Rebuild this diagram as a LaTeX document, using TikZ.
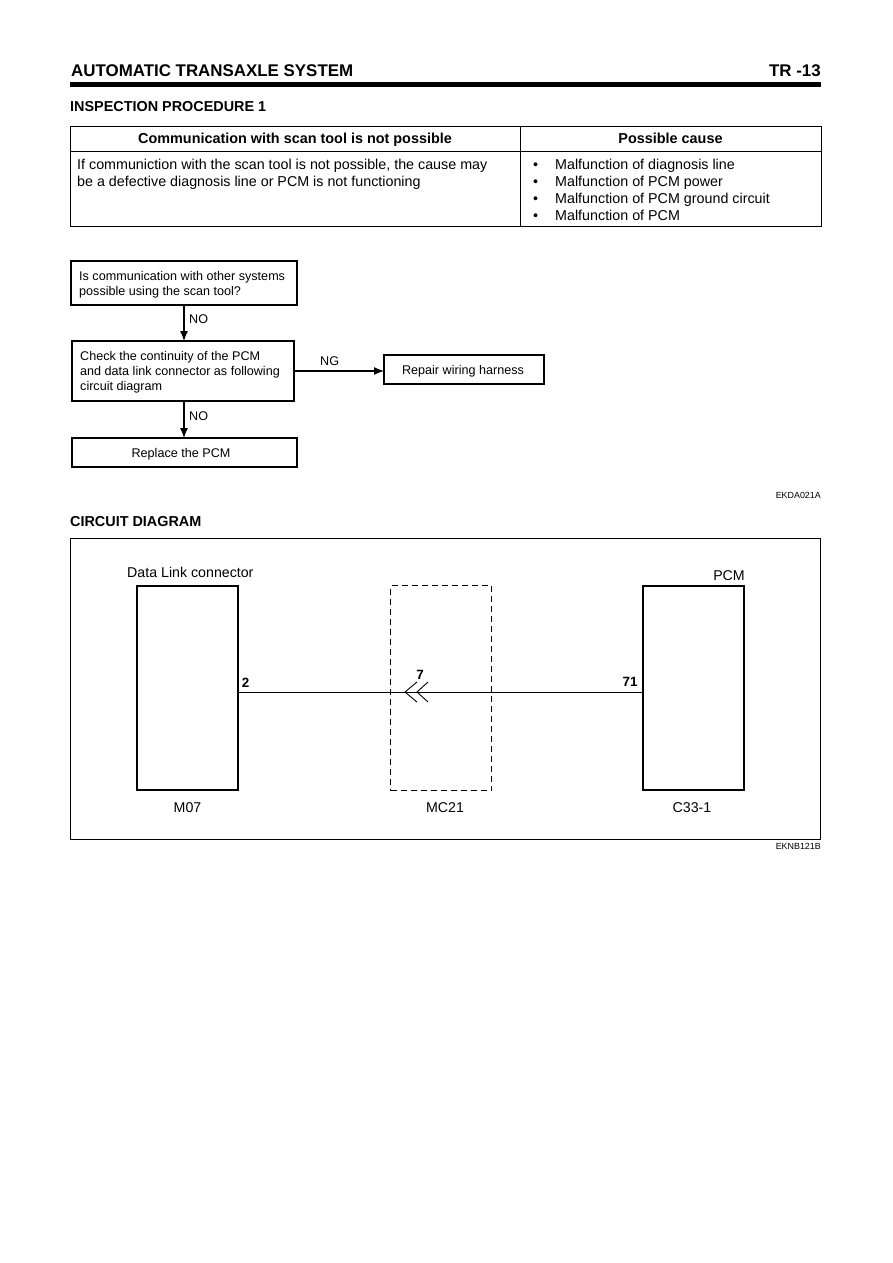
\documentclass[tikz,border=0pt]{standalone}
\usepackage{xcolor}
\usepackage{fontspec}
\setmainfont{Liberation Sans}
\usetikzlibrary{arrows.meta}
\usetikzlibrary{calc}
\usetikzlibrary{positioning}
\tikzstyle{cell} = [draw, line width = 1pt, rectangle, anchor = north west, inner sep = 0pt, outer sep = 0pt]
\tikzstyle{flowbox} = [draw, line width = 1.2pt, rectangle, anchor = north west, inner sep = 0pt, outer sep = 0pt]
\tikzstyle{unit} = [draw, line width = 1.5pt, rectangle, anchor = north west, inner sep = 0pt, outer sep = 0pt, minimum width = 101pt, minimum height = 204pt]
\tikzstyle{flowtext} = [inner sep = 0pt, align = left, anchor = north west, font = \fontsize{12.6}{15}\selectfont]
\tikzstyle{tabletext} = [inner sep = 0pt, align = left, anchor = north west, font = \fontsize{14.3}{17}\selectfont]
\tikzstyle{headtext} = [inner sep = 0pt, text height = 10pt, text depth = 0pt, font = \fontsize{14.4}{17}\selectfont\bfseries]
\tikzstyle{partname} = [inner sep = 0pt, font = \fontsize{14.2}{17}\selectfont]
\tikzstyle{pin} = [inner sep = 0pt, font = \fontsize{13.4}{15}\selectfont\bfseries]
\tikzstyle{flowarrow} = [line width = 1.2pt, -{Latex[length = 10pt, width = 8pt]}]
\tikzstyle{codetext} = [inner sep = 0pt, anchor = base east, font = \fontsize{8.9}{10}\selectfont]

\begin{document}
\begin{tikzpicture}[x = 1pt, y = -1pt]
\useasboundingbox (0,0) rectangle (893,1263);

% page heading
\node (title) [inner sep = 0pt, anchor = base west, font = \fontsize{16.9}{20}\selectfont\bfseries] at (71,77) {AUTOMATIC TRANSAXLE SYSTEM};
\node (page) [inner sep = 0pt, anchor = base east, font = \fontsize{16.9}{20}\selectfont\bfseries] at (821,77) {TR -13};
\fill (70,82) rectangle (821,87);
\node (procedure) [headtext, anchor = base west] at (70,111) {INSPECTION PROCEDURE 1};

% symptom table
\node (symptomhead) [cell, minimum width = 450pt, minimum height = 25pt] at (70,126) {};
\node (causehead) [cell, minimum width = 301pt, minimum height = 25pt] at (520,126) {};
\node (symptombody) [cell, minimum width = 450pt, minimum height = 75pt] at (70,151) {};
\node (causebody) [cell, minimum width = 301pt, minimum height = 75pt] at (520,151) {};
\node [headtext] at (symptomhead.center) {Communication with scan tool is not possible};
\node [headtext] at (causehead.center) {Possible cause};
\node (symptomtext) [tabletext] at (77,158.5) {If communiction with the scan tool is not possible, the cause may\\be a defective diagnosis line or PCM is not functioning};
\node (causetext) [tabletext] at (533,158.5) {\textbullet\hspace{17pt}Malfunction of diagnosis line\\\textbullet\hspace{17pt}Malfunction of PCM power\\\textbullet\hspace{17pt}Malfunction of PCM ground circuit\\\textbullet\hspace{17pt}Malfunction of PCM};

% flow chart
\node (other) [flowbox, minimum width = 226pt, minimum height = 44pt] at (71,261) {};
\node [flowtext] at (79,271) {Is communication with other systems\\possible using the scan tool?};
\node (check) [flowbox, minimum width = 222pt, minimum height = 60pt] at (72,341) {};
\node [flowtext] at (80,351) {Check the continuity of the PCM\\and data link connector as following\\circuit diagram};
\node (replace) [flowbox, minimum width = 225pt, minimum height = 29pt] at (72,438) {};
\node (repair) [flowbox, minimum width = 160pt, minimum height = 29pt] at (384,355) {};
\node [flowtext, anchor = base] at (181,457) {Replace the PCM};
\node [flowtext, anchor = base] at (463,374) {Repair wiring harness};
\draw [flowarrow] (other.south -| 184,0) -- (check.north -| 184,0);
\draw [flowarrow] (check.south -| 184,0) -- (replace.north -| 184,0);
\draw [flowarrow] (check.east) -- (repair.west |- check.east);
\node [flowtext, anchor = west] at (189,319) {NO};
\node [flowtext, anchor = west] at (189,416) {NO};
\node [flowtext, anchor = west] at (320,361) {NG};

% reference codes
\node (codea) [codetext] at (821,498) {EKDA021A};
\node (codeb) [codetext] at (821,849) {EKNB121B};

% circuit diagram
\node (circuit) [headtext, anchor = base west] at (70,526) {CIRCUIT DIAGRAM};
\node (frame) [cell, minimum width = 750pt, minimum height = 301pt] at (70,538) {};
\node (dlc) [unit] at (137,586) {};
\node (pcm) [unit] at (643,586) {};
\node (joint) [draw, line width = 1pt, dash pattern = on 6pt off 4pt, rectangle, anchor = north west, inner sep = 0pt, minimum width = 101pt, minimum height = 205pt] at (390,585) {};
\node [partname, anchor = base west] at (127,577) {Data Link connector};
\node [partname, anchor = base east] at (745,580) {PCM};
\node [partname] at (dlc.south |- 0,808) {M07};
\node [partname] at (445,808) {MC21};
\node [partname] at (692,808) {C33-1};
\coordinate (wireleft) at (238,692);
\coordinate (wireright) at (643,692);
\coordinate (tipa) at (405,692);
\coordinate (tipb) at (417,692);
\draw [line width = 0.8pt] (wireleft) -- (wireright);
\draw [line width = 0.9pt] (417,682) -- (tipa) -- (417,702);
\draw [line width = 0.9pt] (428,682) -- (tipb) -- (428,702);
\node [pin] at (245.5,682.5) {2};
\node [pin] at (420,675) {7};
\node [pin] at (630,682) {71};
\end{tikzpicture}
\end{document}
